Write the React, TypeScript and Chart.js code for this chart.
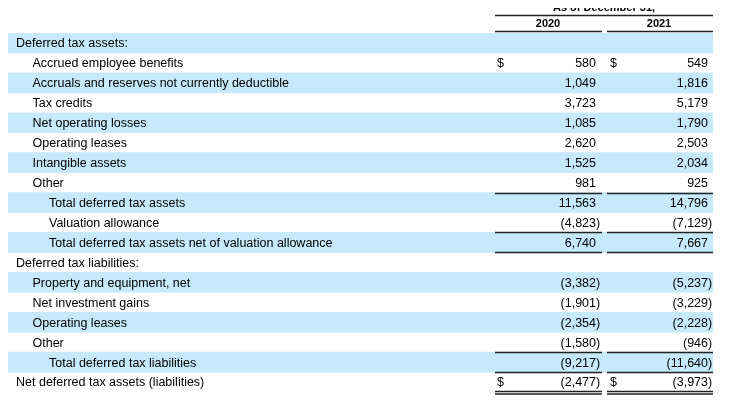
import { useEffect, useRef } from "react";
import { Chart, registerables } from "chart.js";

Chart.register(...registerables);

const rowLabels = [
  "Deferred tax assets:",
  "Accrued employee benefits",
  "Accruals and reserves not currently deductible",
  "Tax credits",
  "Net operating losses",
  "Operating leases",
  "Intangible assets",
  "Other",
  "Total deferred tax assets",
  "Valuation allowance",
  "Total deferred tax assets net of valuation allowance",
  "Deferred tax liabilities:",
  "Property and equipment, net",
  "Net investment gains",
  "Operating leases",
  "Other",
  "Total deferred tax liabilities",
  "Net deferred tax assets (liabilities)",
];
// indent level per row
const indents = [0, 1, 1, 1, 1, 1, 1, 1, 2, 2, 2, 0, 1, 1, 1, 1, 2, 0];
const values2020: (number | null)[] = [null, 580, 1049, 3723, 1085, 2620, 1525, 981, 11563, -4823, 6740, null, -3382, -1901, -2354, -1580, -9217, -2477];
const values2021: (number | null)[] = [null, 549, 1816, 5179, 1790, 2503, 2034, 925, 14796, -7129, 7667, null, -5237, -3229, -2228, -946, -11640, -3973];
const dollarRows = [1, 17];
const years = ["2020", "2021"];
const headerText = "As of December 31,";

const FONT = '"Liberation Sans", Arial, sans-serif';
const fmt = (v: number) => Math.abs(v).toLocaleString("en-US");

const tablePlugin = {
  id: "tableText",
  afterDatasetsDraw(chart: any) {
    const ctx = chart.ctx;
    const y = chart.scales.y;
    const half = (y.getPixelForValue(1) - y.getPixelForValue(0)) / 2;
    const cols = [
      { l: 487, r: 594, dollar: 489, num: 588 },
      { l: 599, r: 705, dollar: 602, num: 700 },
    ];
    ctx.save();
    ctx.fillStyle = "#000";
    ctx.strokeStyle = "#222";
    // header
    ctx.font = `bold 11px ${FONT}`;
    ctx.textAlign = "center";
    ctx.textBaseline = "middle";
    ctx.fillText(headerText, (cols[0].l + cols[1].r) / 2, 8);
    ctx.fillText(years[0], 540, 24);
    ctx.fillText(years[1], 651, 24);
    ctx.lineWidth = 1.5;
    const hline = (x1: number, x2: number, yy: number) => {
      ctx.beginPath();
      ctx.moveTo(x1, yy);
      ctx.lineTo(x2, yy);
      ctx.stroke();
    };
    hline(cols[0].l, cols[1].r, 15.5);
    cols.forEach((c) => hline(c.l, c.r, 31.5));

    ctx.font = `12.5px ${FONT}`;
    rowLabels.forEach((lab, i) => {
      const cy = y.getPixelForValue(i) + 1;
      ctx.textAlign = "left";
      ctx.fillText(lab, 8 + indents[i] * 16.5, cy);
      [values2020[i], values2021[i]].forEach((v, k) => {
        if (v === null) return;
        const c = cols[k];
        if (dollarRows.includes(i)) {
          ctx.textAlign = "left";
          ctx.fillText("$", c.dollar, cy);
        }
        ctx.textAlign = "right";
        if (v < 0) {
          ctx.fillText("(" + fmt(v), c.num, cy);
          ctx.textAlign = "left";
          ctx.fillText(")", c.num, cy);
        } else {
          ctx.fillText(fmt(v), c.num, cy);
        }
      });
    });
    // rule lines (top edge of given rows)
    const top = (i: number) => Math.round(y.getPixelForValue(i) - half) + 0.5;
    [8, 10, 11, 16, 17].forEach((i) => cols.forEach((c) => hline(c.l, c.r, top(i))));
    cols.forEach((c) => {
      hline(c.l, c.r, top(18) - 1);
      hline(c.l, c.r, top(18) + 1.5);
    });
    ctx.restore();
  },
};

const App = () => {
  const chartRef = useRef<HTMLCanvasElement | null>(null);

  useEffect(() => {
    if (!chartRef.current) return;
    const chart = new Chart(chartRef.current, {
      type: "bar",
      data: {
        labels: rowLabels,
        datasets: [
          {
            data: rowLabels.map((_, i) => (i % 2 === 0 ? [0, 1] : null)) as any,
            backgroundColor: "#c6e9fb",
            barPercentage: 1,
            categoryPercentage: 1,
          },
        ],
      },
      options: {
        indexAxis: "y",
        animation: false,
        responsive: true,
        maintainAspectRatio: false,
        layout: { padding: { top: 33, bottom: 5, left: 0, right: 11 } },
        scales: {
          x: { display: false, min: 0, max: 1 },
          y: { display: false },
        },
        plugins: { legend: { display: false }, tooltip: { enabled: false } },
      },
      plugins: [tablePlugin],
    });
    return () => chart.destroy();
  }, []);

  return (
    <div style={{ width: 716, height: 397, marginTop: -8 }}>
      <canvas ref={chartRef}></canvas>
    </div>
  );
};

export default App;
